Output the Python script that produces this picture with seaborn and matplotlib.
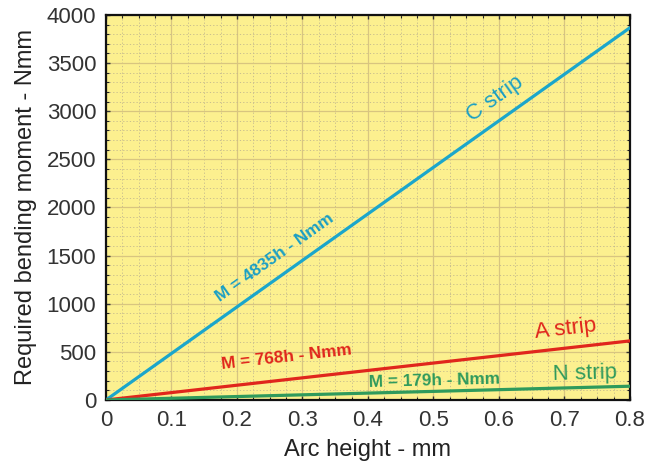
import numpy as np
import pandas as pd
import matplotlib
matplotlib.use('Agg')
import matplotlib.pyplot as plt
from matplotlib.ticker import MultipleLocator, FuncFormatter
import seaborn as sns

sns.set_theme(style='white')
plt.rcParams['font.family'] = ['Liberation Sans', 'DejaVu Sans']

# data
arc_height = [0.0, 0.8]
strips = ['C strip', 'A strip', 'N strip']
moment_c = [0, 3868]
moment_a = [0, 614]
moment_n = [0, 143]
equations = ['M = 4835h - Nmm', 'M = 768h - Nmm', 'M = 179h - Nmm']
colors = {'C strip': '#1ba6cb', 'A strip': '#e0261c', 'N strip': '#2f9a5c'}

df = pd.DataFrame({
    'h': arc_height * 3,
    'M': moment_c + moment_a + moment_n,
    'strip': [s for s in strips for _ in arc_height],
})

fig = plt.figure(figsize=(6.6, 4.67), dpi=100)
ax = fig.add_axes([0.1606, 0.1435, 0.7939, 0.8244])
ax.set_facecolor('#fcf08f')

sns.lineplot(data=df, x='h', y='M', hue='strip', palette=colors,
             linewidth=2.3, legend=False, ax=ax, zorder=3)

ax.set_xlim(0, 0.8)
ax.set_ylim(0, 4000)
ax.xaxis.set_major_locator(MultipleLocator(0.1))
ax.xaxis.set_minor_locator(MultipleLocator(0.025))
ax.yaxis.set_major_locator(MultipleLocator(500))
ax.yaxis.set_minor_locator(MultipleLocator(100))
ax.xaxis.set_major_formatter(FuncFormatter(lambda v, p: '0' if v == 0 else f'{v:.1f}'))

ax.grid(which='major', color='#d8c580', linewidth=0.9, linestyle='-', zorder=0)
ax.grid(which='minor', color='#c2b78e', linewidth=0.6, linestyle=(0, (1.5, 2.5)), zorder=0)
ax.set_axisbelow(True)

ax.tick_params(which='both', direction='in', top=True, right=True, bottom=True, left=True,
               color='#222222')
ax.tick_params(which='major', length=3, width=1, labelsize=16, pad=7, colors='#333333')
ax.tick_params(which='minor', length=2, width=0.8)
for s in ax.spines.values():
    s.set_color('#111111')
    s.set_linewidth(1.6)

ax.set_xlabel('Arc height - mm', fontsize=17, color='#222222', labelpad=6)
ax.set_ylabel('Required bending moment - Nmm', fontsize=17, color='#222222', labelpad=7)

fig.canvas.draw()


def screen_angle(ys):
    p0 = ax.transData.transform((arc_height[0], ys[0]))
    p1 = ax.transData.transform((arc_height[1], ys[1]))
    return np.degrees(np.arctan2(p1[1] - p0[1], p1[0] - p0[0]))


ang_c = screen_angle(moment_c)
ang_a = screen_angle(moment_a)
ang_n = screen_angle(moment_n)

ax.text(0.258, 1480, equations[0], color='#1a9fc4', fontsize=12.3, fontweight='bold',
        rotation=ang_c, ha='center', va='center', rotation_mode='anchor')
ax.text(0.594, 3130, 'C strip', color='#1a9fc4', fontsize=16,
        rotation=ang_c, ha='center', va='center', rotation_mode='anchor')
ax.text(0.276, 440, equations[1], color=colors['A strip'], fontsize=12.3, fontweight='bold',
        rotation=ang_a, ha='center', va='center', rotation_mode='anchor')
ax.text(0.701, 740, 'A strip', color=colors['A strip'], fontsize=16,
        rotation=ang_a, ha='center', va='center', rotation_mode='anchor')
ax.text(0.502, 200, equations[2], color=colors['N strip'], fontsize=12.3, fontweight='bold',
        rotation=ang_n, ha='center', va='center', rotation_mode='anchor')
ax.text(0.731, 270, 'N strip', color=colors['N strip'], fontsize=16,
        rotation=ang_n, ha='center', va='center', rotation_mode='anchor')

fig.savefig('out.png', dpi=100, facecolor='white')
